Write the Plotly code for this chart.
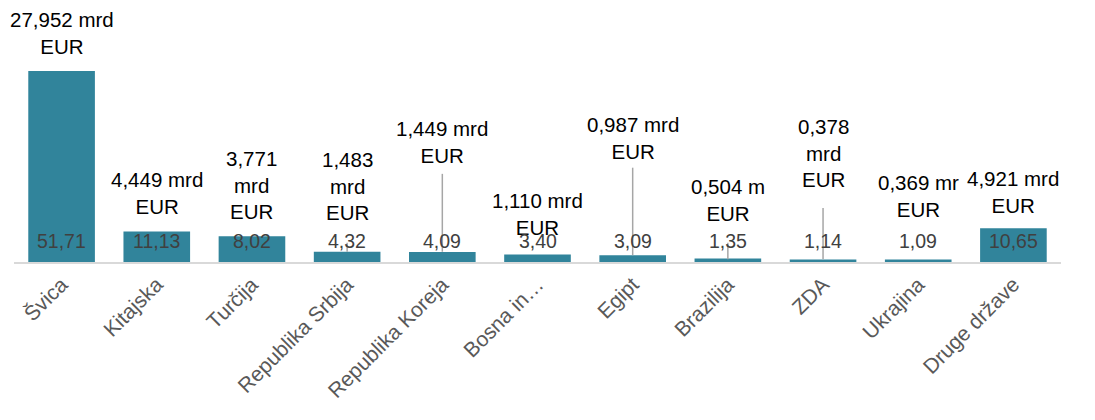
import plotly.graph_objects as go

# data
countries = ["Švica", "Kitajska", "Turčija", "Republika Srbija", "Republika Koreja",
             "Bosna in…", "Egipt", "Brazilija", "ZDA", "Ukrajina", "Druge države"]
values_mrd = [27.952, 4.449, 3.771, 1.483, 1.449, 1.110, 0.987, 0.504, 0.378, 0.369, 4.921]
shares = ["51,71", "11,13", "8,02", "4,32", "4,09", "3,40", "3,09", "1,35", "1,14", "1,09", "10,65"]
top_labels = ["27,952 mrd<br>EUR", "4,449 mrd<br>EUR", "3,771<br>mrd<br>EUR", "1,483<br>mrd<br>EUR",
              "1,449 mrd<br>EUR", "1,110 mrd<br>EUR", "0,987 mrd<br>EUR", "0,504 m<br>EUR",
              "0,378<br>mrd<br>EUR", "0,369 mr<br>EUR", "4,921 mrd<br>EUR"]

# label placement (y of label bottom in data units), leader lines (y0, y1 in data units)
label_y = [29.6, 6.1, 5.4, 5.3, 13.6, 3.1, 14.2, 5.1, 10.1, 5.7, 6.3]
leaders = {3: (1.5, 2.8), 4: (1.5, 12.9), 6: (1.0, 13.8), 7: (0.4, 2.8), 8: (0.4, 7.9)}

BAR = "#31849B"
FONT = "Liberation Sans, Arial"

fig = go.Figure()
fig.add_trace(go.Bar(
    x=countries, y=values_mrd,
    marker=dict(color=BAR, line=dict(width=0)),
    hoverinfo="skip",
))

annotations = []
for i, c in enumerate(countries):
    annotations.append(dict(
        x=c, y=label_y[i], xref="x", yref="y", text=top_labels[i], showarrow=False,
        yanchor="bottom",
        font=dict(family=FONT, size=20.5, color="#000000"),
    ))
    annotations.append(dict(
        x=c, y=1.2, xref="x", yref="y", text=shares[i], showarrow=False,
        yanchor="bottom",
        font=dict(family=FONT, size=19.5, color="#404040"),
    ))

shapes = []
for i, (y0, y1) in leaders.items():
    shapes.append(dict(type="line", xref="x", yref="y", x0=i, x1=i, y0=y0, y1=y1,
                       line=dict(color="#A6A6A6", width=1.5)))

# page body has an 8px margin, so the figure is a bit smaller than the window
fig.update_layout(
    width=1079, height=404,
    margin=dict(l=6, r=26, t=0, b=150),
    paper_bgcolor="white", plot_bgcolor="white",
    bargap=0.3, showlegend=False,
    annotations=annotations, shapes=shapes,
    xaxis=dict(
        range=[-0.5, len(countries) - 0.5],
        tickangle=-45, showgrid=False, ticks="", automargin=False,
        showline=True, linecolor="#D9D9D9", linewidth=2,
        tickfont=dict(family=FONT, size=21, color="#595959"),
    ),
    yaxis=dict(range=[0, 37.17], visible=False, showgrid=False, zeroline=False,
               automargin=False),
)

fig.write_html("out.html")
